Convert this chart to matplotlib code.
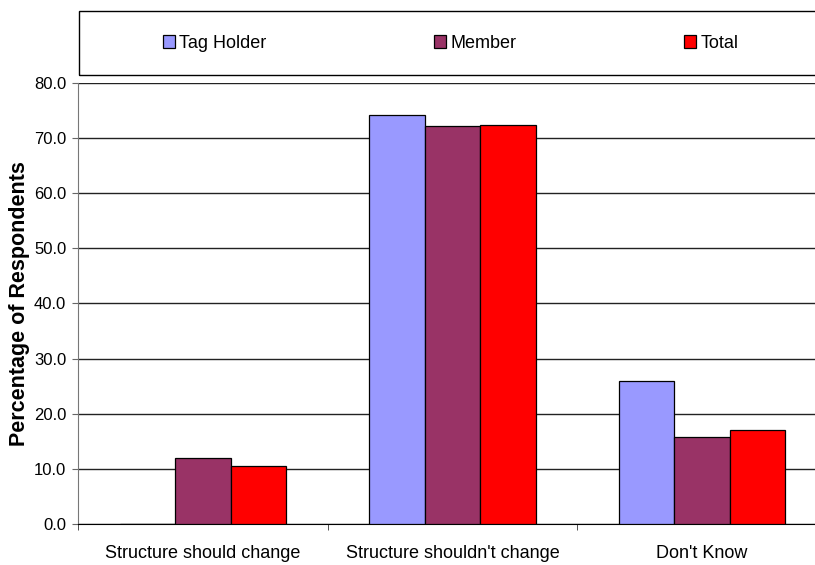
import numpy as np
import matplotlib; matplotlib.use("Agg")
import matplotlib.pyplot as plt
from matplotlib.patches import Rectangle

categories = ["Structure should change", "Structure shouldn't change", "Don't Know"]
tag_holder = [0.0, 74.2, 26.0]
member = [12.0, 72.2, 15.8]
total = [10.5, 72.4, 17.1]
series_names = ["Tag Holder", "Member", "Total"]
colors = ["#9999FF", "#993366", "#FF0000"]
yticks = np.arange(0, 81, 10)

plt.rcParams["font.family"] = ["Liberation Sans", "DejaVu Sans"]

fig = plt.figure(figsize=(8.15, 5.65), dpi=100)
ax = fig.add_axes([0.0957, 0.0726, 0.9190, 0.7805])

x = np.arange(len(categories))
w = 0.222
bars = []
for i, (vals, c) in enumerate(zip([tag_holder, member, total], colors)):
    b = ax.bar(x + (i - 1) * w, vals, w, color=c, edgecolor="black", lw=0.9, zorder=3)
    bars.append(b)

ax.set_xlim(-0.5, len(categories) - 0.5)
ax.set_ylim(0, 80)
ax.set_yticks(yticks)
ax.set_yticklabels([f"{v:.1f}" for v in yticks], fontsize=12)
ax.yaxis.grid(True, color="#222222", lw=1.0, zorder=0)
ax.set_axisbelow(True)

ax.set_xticks(x)
ax.set_xticklabels(categories, fontsize=13)
ax.set_xticks(np.arange(-0.5, len(categories), 1), minor=True)
ax.tick_params(axis="x", which="major", length=0, pad=15)
ax.tick_params(axis="x", which="minor", length=4, color="#333333")
ax.tick_params(axis="y", length=4, color="#666666", pad=4.5)

for s in ["top", "right"]:
    ax.spines[s].set_visible(False)
ax.spines["left"].set_color("#777777")
ax.spines["bottom"].set_color("black")
ax.set_ylabel("Percentage of Respondents", fontsize=15.5, fontweight="bold", labelpad=3)

# legend box along the top (runs off the right edge)
fig.patches.append(Rectangle((79 / 815, 1 - 75 / 565), 1.0, 64 / 565,
                             transform=fig.transFigure, fill=False,
                             edgecolor="black", lw=1.0))
fig.legend(bars, series_names, loc="center left", ncol=3, frameon=False,
           bbox_to_anchor=(163 / 815, 1 - 43 / 565), borderpad=0, borderaxespad=0,
           handlelength=0.67, handleheight=0.7, handletextpad=0.22,
           columnspacing=9.3, prop={"size": 13})

fig.savefig("out.png", dpi=100)
